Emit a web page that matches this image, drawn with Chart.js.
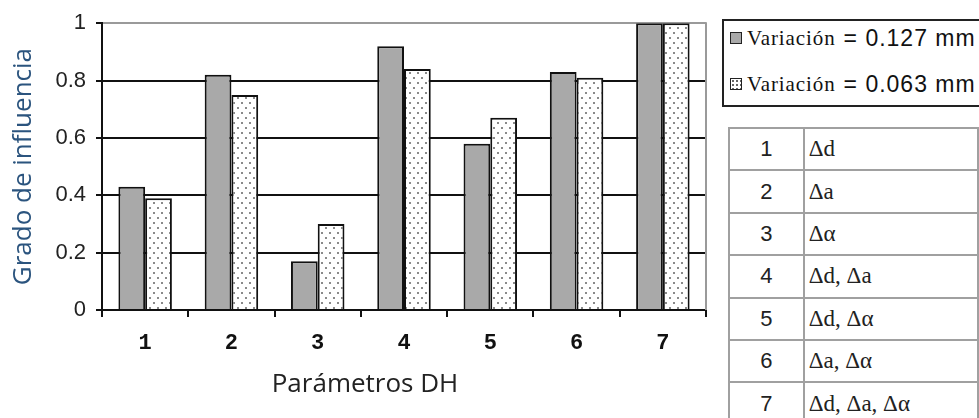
<!DOCTYPE html>
<html>
<head>
<meta charset="utf-8">
<script src="https://cdn.jsdelivr.net/npm/chart.js@4/dist/chart.umd.min.js"></script>
<style>
  html, body { margin: 0; padding: 0; background: #fff; }
  body { width: 979px; height: 418px; position: relative; overflow: hidden; }
  #wrap { position: absolute; left: 0; top: 0; width: 720px; height: 418px; }
  #legend {
    position: absolute; left: 722px; top: 19px; width: 270px; height: 84px;
    border: 2px solid #222; background: #fff;
  }
  .lrow { position: absolute; left: 6px; height: 24px; white-space: nowrap; display: flex; align-items: center; }
  .sw { width: 10px; height: 10px; border: 1.5px solid #222; margin-right: 5px; }
  .sw.solid { background: #a9a9a9; }
  .sw.dots { background: #fff radial-gradient(circle, #666 0.8px, transparent 1.1px) 0 0 / 4px 4px; }
  .var { font-family: "Liberation Serif", serif; font-size: 21px; letter-spacing: 0.9px; color: #111; margin-right: 8px; }
  .eq { font-family: "Liberation Sans", Arial, sans-serif; font-size: 23px; color: #111; letter-spacing: 1px; }
  #params { position: absolute; left: 728px; top: 127px; border-collapse: collapse; }
  #params td {
    border: 2px solid #a0a0a0; height: 40.4px; padding: 0; color: #222;
  }
  #params td.n { width: 87px; text-align: center; font-family: "Liberation Sans", Arial, sans-serif; font-size: 22px; }
  #params td.p { width: 200px; padding-left: 4px; font-family: "Liberation Serif", serif; font-size: 23px; }
</style>
</head>
<body>
<div id="wrap"><canvas id="chart" width="720" height="418"></canvas></div>

<div id="legend">
  <div class="lrow" style="top:5px"><span class="sw solid"></span><span class="var">Variación</span><span class="eq">= 0.127 mm</span></div>
  <div class="lrow" style="top:51px"><span class="sw dots"></span><span class="var">Variación</span><span class="eq">= 0.063 mm</span></div>
</div>

<table id="params"></table>

<script>
// Parámetros DH evaluated (1..7) and their influence for each variation
const categories = ['1', '2', '3', '4', '5', '6', '7'];
const variation127 = [0.43, 0.82, 0.17, 0.92, 0.58, 0.83, 1.0];
const variation063 = [0.39, 0.75, 0.30, 0.84, 0.67, 0.81, 1.0];
const seriesLabels = ['Variación = 0.127 mm', 'Variación = 0.063 mm'];
const yTicks = [0, 0.2, 0.4, 0.6, 0.8, 1];
const paramNames = ['Δd', 'Δa', 'Δα', 'Δd, Δa', 'Δd, Δα', 'Δa, Δα', 'Δd, Δa, Δα'];

// key table beside the chart
const table = document.getElementById('params');
categories.forEach((c, i) => {
  const tr = document.createElement('tr');
  const a = document.createElement('td'); a.className = 'n'; a.textContent = c;
  const b = document.createElement('td'); b.className = 'p'; b.textContent = paramNames[i];
  tr.appendChild(a); tr.appendChild(b); table.appendChild(tr);
});

// dotted fill for the second series
function dotPattern() {
  const c = document.createElement('canvas');
  c.width = 8; c.height = 10;
  const g = c.getContext('2d');
  g.fillStyle = '#ffffff'; g.fillRect(0, 0, 8, 10);
  g.fillStyle = '#8a8a8a';
  g.fillRect(1, 2, 2, 2);
  g.fillRect(5, 7, 2, 2);
  return g.createPattern(c, 'repeat');
}

const frame = {
  id: 'frame',
  afterDraw(chart) {
    const { ctx, chartArea: a } = chart;
    ctx.save();
    ctx.strokeStyle = '#9a9a9a';
    ctx.lineWidth = 2;
    ctx.beginPath();
    ctx.moveTo(a.right, a.top - 1);
    ctx.lineTo(a.right, a.bottom);
    ctx.stroke();
    ctx.fillStyle = '#222';
    ctx.font = '26px "Open Sans", sans-serif';
    ctx.textAlign = 'center';
    ctx.textBaseline = 'middle';
    ctx.fillText('Parámetros DH', 365, 385);
    ctx.restore();
  }
};

new Chart(document.getElementById('chart'), {
  type: 'bar',
  data: {
    labels: categories,
    datasets: [
      { label: seriesLabels[0], data: variation127, backgroundColor: '#a9a9a9',
        borderColor: '#111', borderWidth: 2, borderSkipped: 'bottom' },
      { label: seriesLabels[1], data: variation063, backgroundColor: dotPattern(),
        borderColor: '#111', borderWidth: 2, borderSkipped: 'bottom' }
    ]
  },
  options: {
    responsive: false,
    animation: false,
    layout: { padding: { top: 23, right: 14, left: 0, bottom: 0 } },
    plugins: { legend: { display: false }, tooltip: { enabled: false } },
    datasets: { bar: { categoryPercentage: 0.62, barPercentage: 1.0 } },
    scales: {
      x: {
        afterFit: s => { s.height = 108; },
        grid: { drawOnChartArea: false, drawTicks: true, tickLength: 7, color: '#111', lineWidth: 2, offset: true },
        border: { color: '#111', width: 2 },
        ticks: { color: '#111', padding: 13, font: { family: '"Liberation Mono", monospace', size: 22, weight: 'bold' } }
      },
      y: {
        min: 0, max: 1,
        afterFit: s => { s.width = 102; },
        afterBuildTicks: s => { s.ticks = yTicks.map(v => ({ value: v })); },
        grid: {
          color: c => (c.tick && c.tick.value === 1 ? '#9a9a9a' : '#111'),
          tickColor: '#111', lineWidth: 2, tickLength: 6
        },
        border: { color: '#111', width: 2 },
        ticks: { color: '#222', padding: 10, font: { family: '"Liberation Sans", Arial, sans-serif', size: 22 },
                 callback: v => String(v) },
        title: { display: true, text: 'Grado de influencia', color: '#2b547e',
                 font: { family: '"Open Sans", sans-serif', size: 26 }, padding: { top: 8, bottom: 0 } }
      }
    }
  },
  plugins: [frame]
});
</script>
</body>
</html>
